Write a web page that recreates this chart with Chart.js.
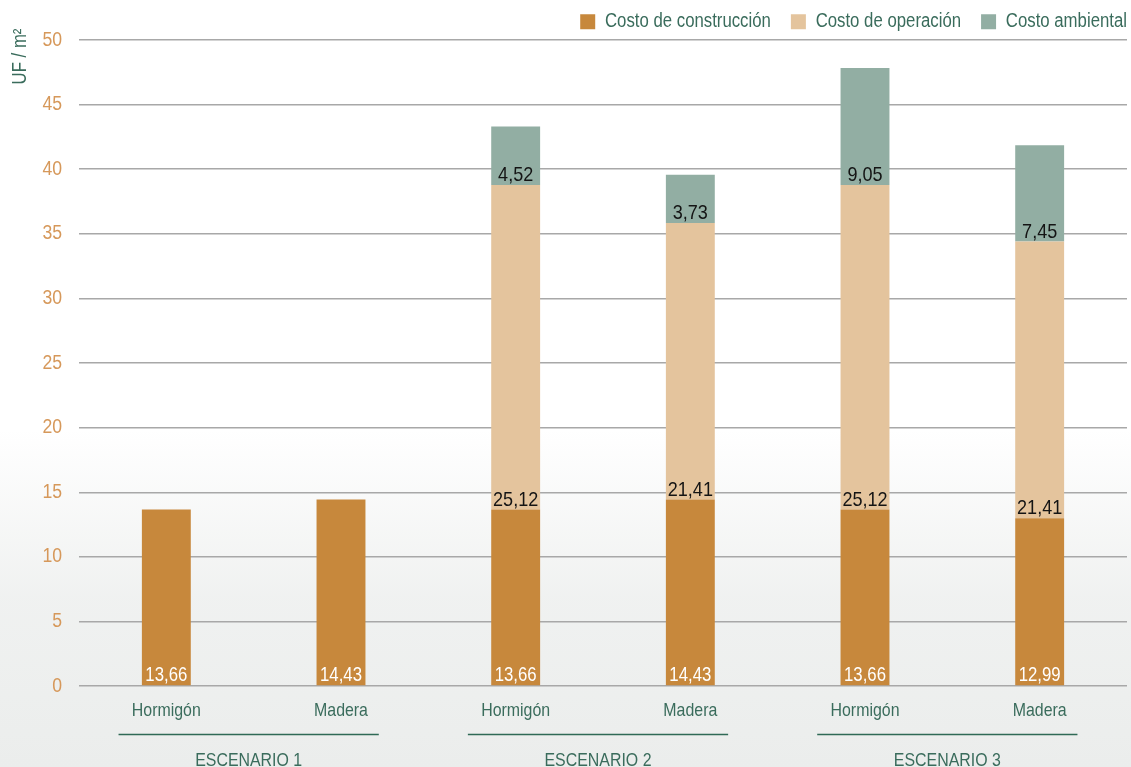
<!DOCTYPE html>
<html lang="es">
<head>
<meta charset="utf-8">
<title>Costos por escenario</title>
<script src="https://cdn.jsdelivr.net/npm/chart.js@4/dist/chart.umd.min.js"></script>
<style>
  html, body { margin: 0; padding: 0; background: #fff; }
  #wrap { width: 1131px; height: 767px; position: relative; }
</style>
</head>
<body>
<div id="wrap"><canvas id="c"></canvas></div>
<script>
// Categories, scenario groups and cost series (UF / m²)
const categories = ['Hormigón', 'Madera', 'Hormigón', 'Madera', 'Hormigón', 'Madera'];
const scenarios = ['ESCENARIO 1', 'ESCENARIO 2', 'ESCENARIO 3'];
const costoConstruccion = [13.66, 14.43, 13.66, 14.43, 13.66, 12.99];
const costoOperacion = [null, null, 25.12, 21.41, 25.12, 21.41];
const costoAmbiental = [null, null, 4.52, 3.73, 9.05, 7.45];
const yMin = 0, yMax = 50, yStep = 5;
const axisTitle = 'UF / m²';

const FONT = '"Liberation Sans", Arial, sans-serif';
const GREEN = '#3a6c5c';
const ORANGE_TXT = '#d6985a';
const NARROW = 0.86; // horizontal squeeze for a condensed look

const fmt = v => v.toFixed(2).replace('.', ',');

// Condensed text: squeeze every glyph run horizontally around its anchor
const canvas = document.getElementById('c');
const ctx2d = canvas.getContext('2d');
(function condense(ctx) {
  const fill = ctx.fillText.bind(ctx);
  const measure = ctx.measureText.bind(ctx);
  ctx.fillText = function (text, x, y, maxWidth) {
    this.save();
    this.translate(x, y);
    this.scale(NARROW, 1);
    if (maxWidth !== undefined) fill(text, 0, 0, maxWidth / NARROW);
    else fill(text, 0, 0);
    this.restore();
  };
  ctx.measureText = function (text) {
    const m = measure(text);
    return {
      width: m.width * NARROW,
      actualBoundingBoxLeft: m.actualBoundingBoxLeft * NARROW,
      actualBoundingBoxRight: m.actualBoundingBoxRight * NARROW,
      actualBoundingBoxAscent: m.actualBoundingBoxAscent,
      actualBoundingBoxDescent: m.actualBoundingBoxDescent,
      fontBoundingBoxAscent: m.fontBoundingBoxAscent,
      fontBoundingBoxDescent: m.fontBoundingBoxDescent
    };
  };
})(ctx2d);

// Soft grey haze behind the lower part of the plot
const backdrop = {
  id: 'backdrop',
  beforeDraw(chart) {
    const { ctx, width, height } = chart;
    ctx.save();
    ctx.fillStyle = '#ffffff';
    ctx.fillRect(0, 0, width, height);
    const y0 = height * 0.56;
    const g = ctx.createLinearGradient(0, y0, 0, height);
    g.addColorStop(0, 'rgba(236,238,237,0)');
    g.addColorStop(0.5, 'rgba(236,238,237,0.8)');
    g.addColorStop(1, 'rgba(235,237,236,1)');
    ctx.fillStyle = g;
    ctx.fillRect(0, y0, width, height - y0);
    ctx.restore();
  }
};

// Keep the legend band a fixed height and flush with the right edge
const legendBand = {
  id: 'legendBand',
  beforeLayout(chart) {
    const lg = chart.legend;
    if (!lg || lg._bandPatched) return;
    const fit = lg.fit;
    lg.fit = function () {
      fit.call(this);
      this.height = 48;
    };
    const draw = lg.draw;
    lg.draw = function () {
      const pad = this.options.labels.padding;
      this.right += pad;
      draw.apply(this, arguments);
      this.right -= pad;
    };
    lg._bandPatched = true;
  }
};

// Value labels sitting at the foot of each stacked segment
const segmentLabels = {
  id: 'segmentLabels',
  afterDatasetsDraw(chart) {
    const { ctx } = chart;
    ctx.save();
    ctx.textAlign = 'center';
    ctx.textBaseline = 'alphabetic';
    chart.data.datasets.forEach((ds, i) => {
      const meta = chart.getDatasetMeta(i);
      ctx.font = (i === 0 ? '19.5px ' : '21px ') + FONT;
      ctx.fillStyle = i === 0 ? '#ffffff' : '#141414';
      meta.data.forEach((bar, j) => {
        const v = ds.data[j];
        if (v == null) return;
        ctx.fillText(fmt(v), bar.x, bar.base - 4);
      });
    });
    ctx.restore();
  }
};

// Scenario brackets under the category labels, plus the rotated unit title
const scenarioGroups = {
  id: 'scenarioGroups',
  afterDraw(chart) {
    const { ctx, chartArea } = chart;
    const xs = chart.scales.x;
    const catW = xs.width / categories.length;
    ctx.save();
    ctx.strokeStyle = '#2f6a56';
    ctx.fillStyle = GREEN;
    ctx.lineWidth = 1.6;
    ctx.font = '18.5px ' + FONT;
    ctx.textAlign = 'center';
    ctx.textBaseline = 'alphabetic';
    scenarios.forEach((name, g) => {
      const x1 = xs.getPixelForValue(2 * g);
      const x2 = xs.getPixelForValue(2 * g + 1);
      const c = (x1 + x2) / 2 - 5;
      const half = catW * 0.745;
      const y = Math.round(chartArea.bottom + 48) + 0.5;
      ctx.beginPath();
      ctx.moveTo(c - half, y);
      ctx.lineTo(c + half, y);
      ctx.stroke();
      ctx.fillText(name, c, chartArea.bottom + 80);
    });
    ctx.translate(21, 56.5);
    ctx.rotate(-Math.PI / 2);
    ctx.textBaseline = 'middle';
    ctx.font = '19.5px ' + FONT;
    ctx.fillText(axisTitle, 0, 0);
    ctx.restore();
  }
};

new Chart(ctx2d, {
  type: 'bar',
  data: {
    labels: categories,
    datasets: [
      { label: 'Costo de construcción', data: costoConstruccion, backgroundColor: '#c7883c' },
      { label: 'Costo de operación', data: costoOperacion, backgroundColor: '#e4c49d' },
      { label: 'Costo ambiental', data: costoAmbiental, backgroundColor: '#92aea3' }
    ]
  },
  options: {
    responsive: true,
    maintainAspectRatio: false,
    animation: false,
    layout: { padding: { top: -8, right: 4, bottom: 0, left: 0 } },
    datasets: { bar: { barPercentage: 0.28, categoryPercentage: 1 } },
    plugins: {
      legend: {
        position: 'top',
        align: 'end',
        labels: {
          boxWidth: 15,
          boxHeight: 15,
          padding: 20,
          color: GREEN,
          font: { family: FONT, size: 19.5 }
        }
      },
      tooltip: { enabled: false }
    },
    scales: {
      x: {
        stacked: true,
        grid: { display: false },
        border: { display: false },
        ticks: { color: GREEN, font: { family: FONT, size: 18.5 }, padding: 6 },
        afterFit(s) { s.height = 81; }
      },
      y: {
        stacked: true,
        min: yMin,
        max: yMax,
        ticks: { stepSize: yStep, color: ORANGE_TXT, padding: 17, font: { family: FONT, size: 20.5 } },
        grid: { color: '#a8a8a8', lineWidth: 1.4, drawTicks: false },
        border: { display: false },
        afterFit(s) { s.width = 79; }
      }
    }
  },
  plugins: [backdrop, legendBand, segmentLabels, scenarioGroups]
});
</script>
</body>
</html>
